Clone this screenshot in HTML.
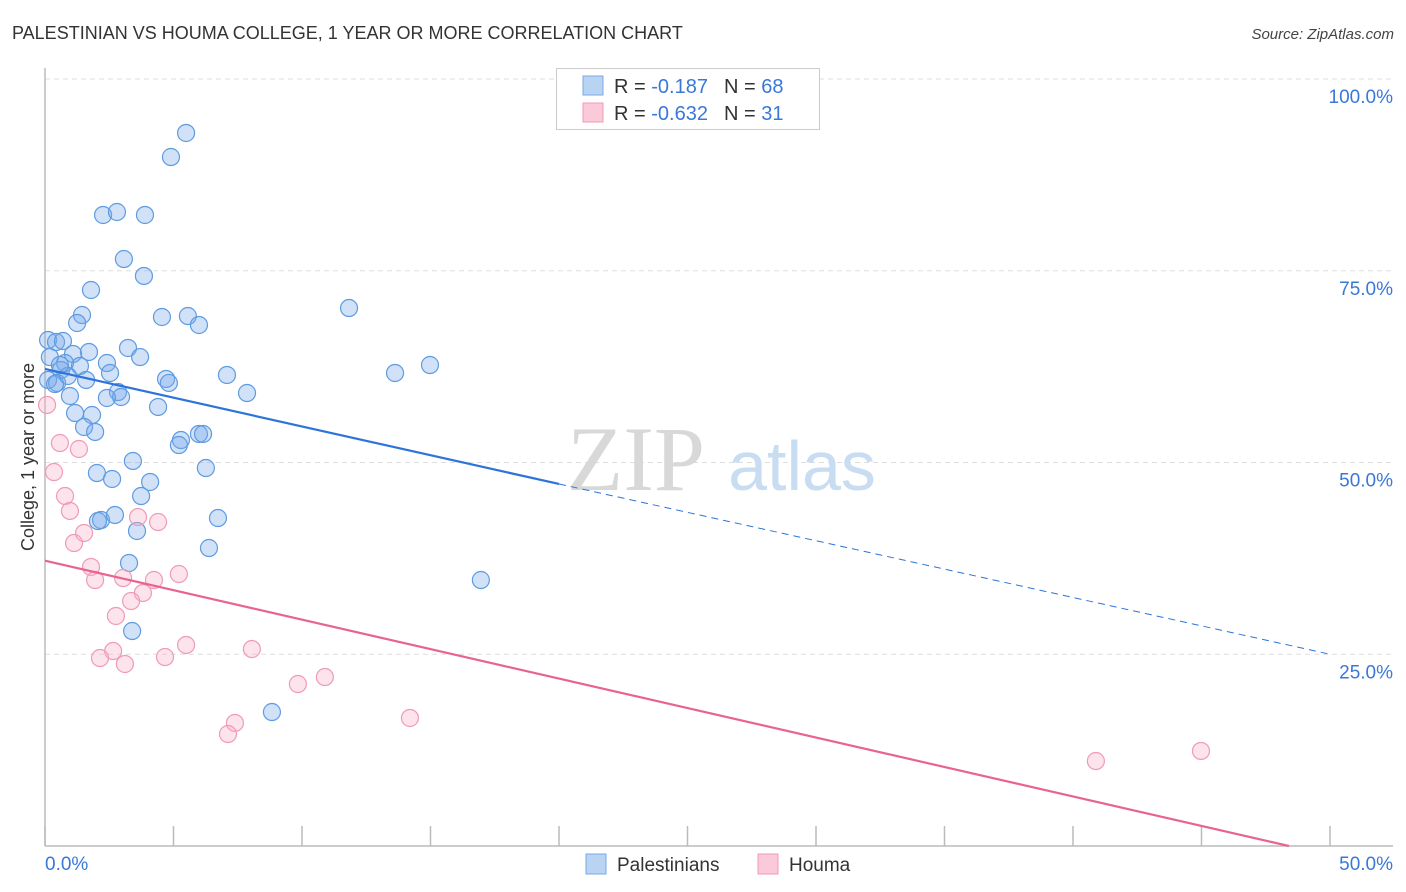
<!DOCTYPE html>
<html><head><meta charset="utf-8">
<style>
html,body{margin:0;padding:0;background:#fff;width:1406px;height:892px;overflow:hidden;font-family:"Liberation Sans",sans-serif;}
svg{display:block}
</style></head>
<body>
<svg id="chart" width="1406" height="892" viewBox="0 0 1406 892" xmlns="http://www.w3.org/2000/svg">
<text x="12" y="39" font-size="18" fill="#333" font-family="Liberation Sans, sans-serif">PALESTINIAN VS HOUMA COLLEGE, 1 YEAR OR MORE CORRELATION CHART</text>
<text x="1394" y="39" font-size="15" fill="#444" text-anchor="end" font-style="italic" font-family="Liberation Sans, sans-serif">Source: ZipAtlas.com</text>
<g id="grid"></g>
<g>
<text x="636" y="490" font-size="92" fill="#d8d8d8" text-anchor="middle" font-family="Liberation Serif, serif">ZIP</text>
<text x="802" y="490" font-size="70" fill="#c8dcf2" text-anchor="middle" font-family="Liberation Sans, sans-serif">atlas</text>
</g>
<line x1="45" y1="68" x2="45" y2="846" stroke="#bbb" stroke-width="1.5"/>
<line x1="45" y1="846" x2="1393" y2="846" stroke="#bbb" stroke-width="1.5"/>
<g id="xticks"></g>
<g id="ylabels"></g>
<text x="45" y="870" font-size="19" fill="#3a78d8">0.0%</text>
<text x="1393" y="870" font-size="19" fill="#3a78d8" text-anchor="end">50.0%</text>
<text transform="translate(34,457) rotate(-90)" font-size="18" fill="#333" text-anchor="middle">College, 1 year or more</text>
<g id="pts-blue"></g>
<g id="pts-pink"></g>
<g id="lines"></g>
<g>
<rect x="556.5" y="68.5" width="263" height="61" fill="#fff" stroke="#ccc"/>
<rect x="583" y="76" width="20" height="19" fill="#b9d3f3" stroke="#7aaae6"/>
<rect x="583" y="103" width="20" height="19" fill="#fbcad8" stroke="#f09ab4"/>
<text x="614" y="93" font-size="20" fill="#333">R = <tspan fill="#3a78d8"> -0.187</tspan><tspan dx="16">N = </tspan><tspan fill="#3a78d8">68</tspan></text>
<text x="614" y="120" font-size="20" fill="#333">R = <tspan fill="#3a78d8">-0.632</tspan><tspan dx="16">N = </tspan><tspan fill="#3a78d8"> 31</tspan></text>
</g>
<g>
<rect x="586" y="854" width="20" height="20" fill="#b9d3f3" stroke="#7aaae6"/>
<text x="617" y="871" font-size="19" fill="#333">Palestinians</text>
<rect x="758" y="854" width="20" height="20" fill="#fbcad8" stroke="#f09ab4"/>
<text x="789" y="871" font-size="19" fill="#333">Houma</text>
</g>
</svg>
<script>
const blueX=[5.49,4.90,2.26,2.80,3.89,3.07,3.85,1.79,11.83,1.44,4.55,5.56,1.25,5.99,0.12,0.43,0.70,1.71,3.23,1.09,3.70,0.19,0.78,2.41,1.36,0.62,2.53,7.08,13.62,14.98,0.12,0.47,0.89,1.60,4.71,4.82,2.84,2.96,2.41,7.86,0.97,4.40,1.17,1.83,1.52,1.95,5.29,5.99,6.15,5.21,3.42,6.26,2.02,2.61,4.09,3.74,6.73,2.18,2.72,2.06,3.58,6.38,3.27,16.96,3.39,8.83,0.39,0.58];
const blueY=[92.96,89.83,82.27,82.66,82.27,76.53,74.32,72.49,70.14,69.23,68.97,69.10,68.19,67.93,65.97,65.71,65.84,64.41,64.93,64.15,63.75,63.75,62.97,62.97,62.58,62.06,61.67,61.41,61.67,62.71,60.76,60.37,61.28,60.76,60.89,60.37,59.19,58.54,58.41,59.06,58.67,57.24,56.45,56.19,54.63,53.98,52.93,53.72,53.72,52.28,50.20,49.28,48.63,47.85,47.46,45.63,42.76,42.50,43.16,42.37,41.07,38.85,36.90,34.68,28.03,17.47,60.23,62.71];
const pinkX=[0.08,0.58,1.32,0.35,0.78,0.97,1.13,1.52,3.62,4.40,1.79,1.95,3.04,4.24,5.21,3.81,3.35,2.76,5.49,8.05,2.65,2.14,3.11,4.67,9.84,10.89,7.39,7.12,14.20,40.89,44.98];
const pinkY=[57.50,52.54,51.76,48.76,45.63,43.68,39.50,40.81,42.89,42.24,36.38,34.68,34.94,34.68,35.46,32.99,31.94,29.99,26.21,25.68,25.42,24.51,23.73,24.64,21.12,22.03,16.04,14.60,16.69,11.08,12.39];
const yTicks=[25,50,75,100];
const yTickLabels=["25.0%","50.0%","75.0%","100.0%"];
const xTicks=[0,5,10,15,20,25,30,35,40,45,50];
const blueTrendX=[0,20,50];
const blueTrendY=[62.2,47.2,25.0];
const pinkTrendX=[0,48.4];
const pinkTrendY=[37.2,0];

const NS="http://www.w3.org/2000/svg";
function sx(v){return 45+v*25.7;}
function sy(v){return 846-v*7.67;}
function mk(tag,attrs,parent){const e=document.createElementNS(NS,tag);for(const k in attrs)e.setAttribute(k,attrs[k]);parent.appendChild(e);return e;}

const grid=document.getElementById('grid');
const yl=document.getElementById('ylabels');
yTicks.forEach((t,i)=>{
  const l=mk('line',{x1:45,x2:1393,y1:sy(t),y2:sy(t),stroke:'#ddd','stroke-dasharray':'5,4','stroke-width':1},grid);
  
  
  const tx=mk('text',{x:1393,y:sy(t)+24,'font-size':19,fill:'#3a78d8','text-anchor':'end'},yl);
  tx.textContent=yTickLabels[i];
  
  
});
const xt=document.getElementById('xticks');
xTicks.forEach(t=>{
  const l=mk('line',{x1:sx(t),x2:sx(t),y1:826,y2:846,stroke:'#bbb','stroke-width':1.5},xt);
  
  
});
const gb=document.getElementById('pts-blue');
blueX.forEach((x,i)=>{
  const c=mk('circle',{cx:sx(x),cy:sy(blueY[i]),r:8.5,fill:'rgba(120,170,235,0.35)',stroke:'#5e9be2','stroke-width':1.2},gb);
  
  
});
const gp=document.getElementById('pts-pink');
pinkX.forEach((x,i)=>{
  const c=mk('circle',{cx:sx(x),cy:sy(pinkY[i]),r:8.5,fill:'rgba(248,175,198,0.35)',stroke:'#ef9bb5','stroke-width':1.2},gp);
  
  
});
const gl=document.getElementById('lines');
const b1=mk('line',{x1:sx(blueTrendX[0]),y1:sy(blueTrendY[0]),x2:sx(blueTrendX[1]),y2:sy(blueTrendY[1]),stroke:'#2d74da','stroke-width':2.2},gl);


const b2=mk('line',{x1:sx(blueTrendX[1]),y1:sy(blueTrendY[1]),x2:sx(blueTrendX[2]),y2:sy(blueTrendY[2]),stroke:'#2d74da','stroke-width':1,'stroke-dasharray':'7,5'},gl);


const p1=mk('line',{x1:sx(pinkTrendX[0]),y1:sy(pinkTrendY[0]),x2:sx(pinkTrendX[1]),y2:sy(pinkTrendY[1]),stroke:'#e8648f','stroke-width':2.2},gl);


</script>
</body></html>
